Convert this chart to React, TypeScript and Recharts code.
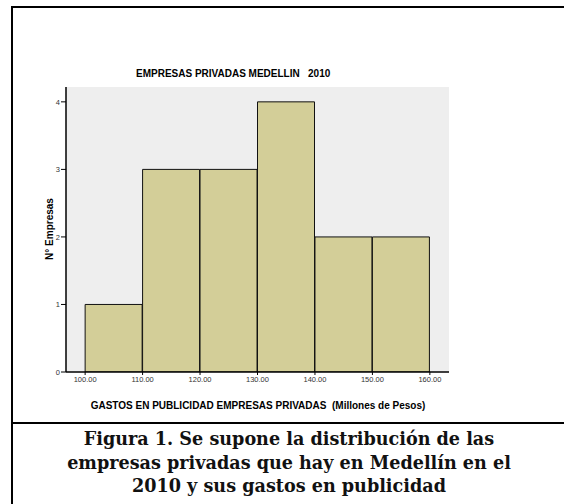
import React from "react";
import { ComposedChart, Bar, XAxis, YAxis, CartesianGrid } from "recharts";

const binStarts = [100, 110, 120, 130, 140, 150];
const binEnds = [110, 120, 130, 140, 150, 160];
const counts = [1, 3, 3, 4, 2, 2];
const xTicks = [100, 110, 120, 130, 140, 150, 160];
const yTicks = [0, 1, 2, 3, 4];

const chartTitle = "EMPRESAS PRIVADAS MEDELLIN   2010";
const xTitle = "GASTOS EN PUBLICIDAD EMPRESAS PRIVADAS  (Millones de Pesos)";
const yTitle = "N° Empresas";
const captionLines = [
  "Figura 1. Se supone la distribución de las",
  "empresas privadas que hay en Medellín en el",
  "2010 y sus gastos en publicidad",
];

const data = binStarts.map((s, i) => ({
  mid: (s + binEnds[i]) / 2,
  count: counts[i],
}));

const sans = "'Liberation Sans', Arial, sans-serif";

export default function App() {
  return (
    <div style={{ position: "absolute", left: 0, top: 0, width: 564, height: 504, background: "#fff", overflow: "hidden" }}>
      {/* outer frame */}
      <div style={{ position: "absolute", left: 11, top: 6, width: 700, height: 600, border: "2px solid #000", boxSizing: "border-box" }} />
      <div style={{ position: "absolute", left: 11, top: 422, width: 700, height: 2, background: "#000" }} />

      <div style={{ position: "absolute", left: 0, top: 0 }}>
        <ComposedChart
          width={564}
          height={420}
          data={data}
          margin={{ top: 87, right: 115, bottom: 28, left: 46 }}
          barCategoryGap={0}
          barGap={0}
        >
          <CartesianGrid horizontal={false} vertical={false} fill="#eeeeee" />
          <XAxis
            dataKey="mid"
            type="number"
            domain={[96.67, 163.33]}
            ticks={xTicks}
            interval={0}
            allowDataOverflow
            height={20}
            tickSize={3}
            tickMargin={2}
            tickLine={{ stroke: "#000" }}
            axisLine={{ stroke: "#000", strokeWidth: 1.5 }}
            tick={{ fontSize: 7.5, fill: "#333", fontFamily: sans }}
            tickFormatter={(v: number) => v.toFixed(2)}
          />
          <XAxis
            xAxisId="top"
            orientation="top"
            type="number"
            domain={[96.67, 163.33]}
            height={0}
            tick={false}
            tickLine={false}
            axisLine={{ stroke: "#666", strokeWidth: 2 }}
          />
          <YAxis
            type="number"
            domain={[0, 4.22]}
            ticks={yTicks}
            interval={0}
            allowDataOverflow
            width={20}
            tickSize={5}
            tickMargin={1}
            tickLine={{ stroke: "#000" }}
            axisLine={{ stroke: "#000", strokeWidth: 1.5 }}
            tick={{ fontSize: 7.5, fill: "#333", fontFamily: sans }}
          />
          <YAxis
            yAxisId="right"
            orientation="right"
            type="number"
            domain={[0, 4.22]}
            width={0}
            tick={false}
            tickLine={false}
            axisLine={{ stroke: "#444", strokeWidth: 2 }}
          />
          <Bar
            dataKey="count"
            fill="#d3ce98"
            stroke="#111"
            strokeWidth={1}
            isAnimationActive={false}
          />
        </ComposedChart>
      </div>

      <div style={{ position: "absolute", left: 136, top: 73, transform: "translate(0, -50%)", whiteSpace: "pre", fontFamily: sans, fontWeight: "bold", fontSize: 10, color: "#000" }}>
        {chartTitle}
      </div>
      <div style={{ position: "absolute", left: 258, top: 405, transform: "translate(-50%, -50%)", whiteSpace: "pre", fontFamily: sans, fontWeight: "bold", fontSize: 10, color: "#000" }}>
        {xTitle}
      </div>
      <div style={{ position: "absolute", left: 49, top: 229, transform: "translate(-50%, -50%) rotate(-90deg)", whiteSpace: "pre", fontFamily: sans, fontWeight: "bold", fontSize: 10, color: "#000" }}>
        {yTitle}
      </div>

      <div style={{ position: "absolute", left: 13, width: 552, top: 427, textAlign: "center", fontFamily: "'DejaVu Serif', serif", fontWeight: "bold", fontSize: 17.6, lineHeight: "23.5px", color: "#111" }}>
        {captionLines.map((l, i) => (
          <div key={i}>{l}</div>
        ))}
      </div>
    </div>
  );
}
